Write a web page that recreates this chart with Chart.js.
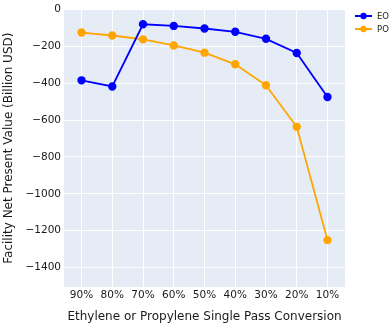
<!DOCTYPE html>
<html>
<head>
<meta charset="utf-8">
<script src="https://cdn.jsdelivr.net/npm/chart.js@4/dist/chart.umd.min.js"></script>
<style>
  html, body { margin: 0; padding: 0; background: #fff; }
  #wrap { width: 392px; height: 324px; }
</style>
</head>
<body>
<div id="wrap"><canvas id="chart" width="392" height="324"></canvas></div>
<script>
// data
const conversions = ['90%', '80%', '70%', '60%', '50%', '40%', '30%', '20%', '10%'];
const eoValues = [-385, -418, -81, -90, -104, -122, -160, -237, -475];
const poValues = [-126, -142, -163, -196, -235, -298, -412, -637, -1251];
const yTicks = [0, -200, -400, -600, -800, -1000, -1200, -1400];

const FONT = '"DejaVu Sans", Verdana, sans-serif';
const TEXT = '#1a1a1a';

const toPoints = (vals) => vals.map((v, i) => ({ x: i, y: v }));

// plot background
const bgPlugin = {
  id: 'plotBg',
  beforeDraw(chart) {
    const { ctx, chartArea: a } = chart;
    ctx.save();
    ctx.fillStyle = '#E5ECF6';
    ctx.fillRect(a.left, a.top, a.right - a.left, a.bottom - a.top);
    ctx.restore();
  },
};

// small plotly-like legend at top right
const legendPlugin = {
  id: 'sideLegend',
  afterDraw(chart) {
    const { ctx } = chart;
    ctx.save();
    chart.data.datasets.forEach((ds, i) => {
      const y = 16 + i * 13;
      ctx.strokeStyle = ds.borderColor;
      ctx.lineWidth = 2;
      ctx.beginPath();
      ctx.moveTo(355, y);
      ctx.lineTo(372, y);
      ctx.stroke();
      ctx.fillStyle = ds.borderColor;
      ctx.beginPath();
      ctx.arc(363.5, y, 3.2, 0, Math.PI * 2);
      ctx.fill();
      ctx.fillStyle = TEXT;
      ctx.font = '8.5px ' + FONT;
      ctx.textBaseline = 'middle';
      ctx.textAlign = 'left';
      ctx.fillText(ds.label, 377, y + 0.5);
    });
    ctx.restore();
  },
};

new Chart(document.getElementById('chart'), {
  type: 'line',
  data: {
    datasets: [
      {
        label: 'EO',
        data: toPoints(eoValues),
        borderColor: '#0000FF',
        backgroundColor: '#0000FF',
        borderWidth: 1.8,
        pointRadius: 3.3,
        pointHoverRadius: 3.3,
        tension: 0,
      },
      {
        label: 'PO',
        data: toPoints(poValues),
        borderColor: '#FFA500',
        backgroundColor: '#FFA500',
        borderWidth: 1.8,
        pointRadius: 3.3,
        pointHoverRadius: 3.3,
        tension: 0,
      },
    ],
  },
  options: {
    responsive: false,
    animation: false,
    layout: { padding: { left: 0, right: 47, top: 7, bottom: 0 } },
    plugins: {
      legend: { display: false },
      tooltip: { enabled: false },
    },
    scales: {
      x: {
        type: 'linear',
        min: -0.57,
        max: conversions.length - 1 + 0.57,
        afterBuildTicks: (scale) => {
          scale.ticks = conversions.map((c, i) => ({ value: i }));
        },
        afterFit: (scale) => { scale.height = 37; },
        grid: { color: '#fff', lineWidth: 1, drawTicks: false },
        border: { display: false },
        ticks: {
          padding: 2,
          color: TEXT,
          font: { family: FONT, size: 10.5 },
          maxRotation: 0,
          autoSkip: false,
          callback: (v) => conversions[v],
        },
        title: {
          display: true,
          text: 'Ethylene or Propylene Single Pass Conversion',
          color: TEXT,
          font: { family: FONT, size: 12 },
          padding: { top: 2, bottom: 0 },
        },
      },
      y: {
        min: -1505,
        max: 0,
        afterBuildTicks: (scale) => {
          scale.ticks = yTicks.map((v) => ({ value: v }));
        },
        afterFit: (scale) => { scale.width = 64; },
        grid: { color: '#fff', lineWidth: 1, drawTicks: false },
        border: { display: false },
        ticks: {
          padding: 3,
          color: TEXT,
          font: { family: FONT, size: 10.5 },
          callback: (v) => String(v).replace('-', '\u2212'),
        },
        title: {
          display: true,
          text: 'Facility Net Present Value (Billion USD)',
          color: TEXT,
          font: { family: FONT, size: 12 },
          padding: { top: 2, bottom: 0 },
        },
      },
    },
  },
  plugins: [bgPlugin, legendPlugin],
});
</script>
</body>
</html>
